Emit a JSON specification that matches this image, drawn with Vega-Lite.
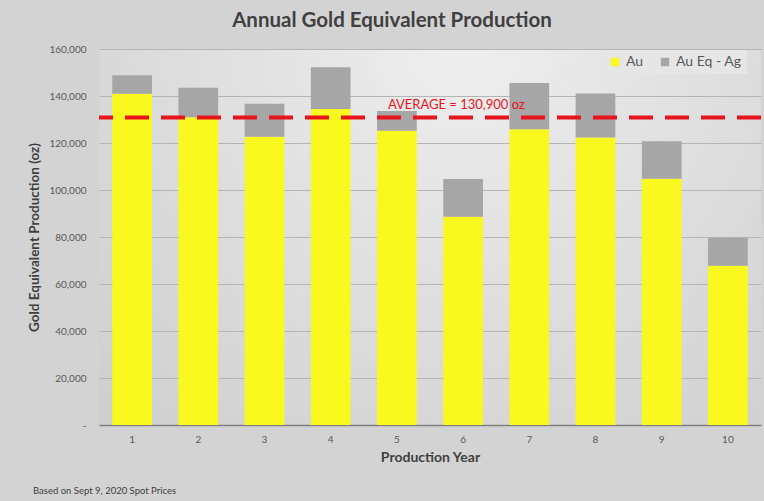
{
  "$schema": "https://vega.github.io/schema/vega-lite/v6.json",
  "width": 662,
  "height": 376,
  "autosize": {"type": "none"},
  "padding": {"left": 99, "top": 49, "right": 3, "bottom": 76},
  "background": "#d3d3d3",
  "view": {
    "stroke": null,
    "fill": {
      "gradient": "radial",
      "x1": 0.55, "y1": 0.2, "x2": 0.55, "y2": 0.2,
      "r1": 0, "r2": 0.85,
      "stops": [
        {"offset": 0, "color": "#efefef"},
        {"offset": 1, "color": "#cccccc"}
      ]
    }
  },
  "title": {
    "text": "Annual Gold Equivalent Production",
    "font": "Lato",
    "fontSize": 20.5,
    "fontWeight": "bold",
    "color": "#404040",
    "anchor": "middle",
    "dx": -38,
    "offset": 13
  },
  "config": {
    "view": {"stroke": null},
    "font": "Lato",
    "axis": {"labelFont": "Lato", "titleFont": "Lato"}
  },
  "datasets": {
    "bars": [
      {"year": 1, "series": "Au", "oz": 141000},
      {"year": 1, "series": "Au Eq - Ag", "oz": 7800},
      {"year": 2, "series": "Au", "oz": 131000},
      {"year": 2, "series": "Au Eq - Ag", "oz": 12500},
      {"year": 3, "series": "Au", "oz": 122700},
      {"year": 3, "series": "Au Eq - Ag", "oz": 14000},
      {"year": 4, "series": "Au", "oz": 134500},
      {"year": 4, "series": "Au Eq - Ag", "oz": 17700},
      {"year": 5, "series": "Au", "oz": 125200},
      {"year": 5, "series": "Au Eq - Ag", "oz": 8400},
      {"year": 6, "series": "Au", "oz": 88600},
      {"year": 6, "series": "Au Eq - Ag", "oz": 16100},
      {"year": 7, "series": "Au", "oz": 125800},
      {"year": 7, "series": "Au Eq - Ag", "oz": 19700},
      {"year": 8, "series": "Au", "oz": 122300},
      {"year": 8, "series": "Au Eq - Ag", "oz": 18800},
      {"year": 9, "series": "Au", "oz": 104800},
      {"year": 9, "series": "Au Eq - Ag", "oz": 15900},
      {"year": 10, "series": "Au", "oz": 67800},
      {"year": 10, "series": "Au Eq - Ag", "oz": 11900}
    ],
    "avg": [{"year": 5, "value": 130900, "label": "AVERAGE = 130,900 oz"}],
    "note": [{"text": "Based on Sept 9, 2020 Spot Prices"}]
  },
  "layer": [
    {
      "data": {"name": "bars"},
      "mark": {"type": "bar"},
      "encoding": {
        "x": {
          "field": "year",
          "type": "ordinal",
          "scale": {"paddingInner": 0.4, "paddingOuter": 0.2},
          "axis": {
            "title": "Production Year",
            "titleFontSize": 14,
            "titleFontWeight": "bold",
            "titleColor": "#404040",
            "titlePadding": 6,
            "labelAngle": 0,
            "labelFontSize": 10,
            "labelColor": "#595959",
            "labelPadding": 9,
            "ticks": false,
            "domainColor": "#808080",
            "domainWidth": 1.5,
            "grid": false
          }
        },
        "y": {
          "field": "oz",
          "type": "quantitative",
          "stack": "zero",
          "scale": {"domain": [0, 160000], "nice": false},
          "axis": {
            "title": "Gold Equivalent Production (oz)",
            "titleFontSize": 13.5,
            "titleFontWeight": "bold",
            "titleColor": "#404040",
            "titlePadding": 7,
            "values": [0, 20000, 40000, 60000, 80000, 100000, 120000, 140000, 160000],
            "labelExpr": "datum.value == 0 ? '-' : format(datum.value, ',')",
            "labelFontSize": 10,
            "labelColor": "#595959",
            "labelPadding": 13,
            "ticks": false,
            "domain": false,
            "gridColor": "#b5b5b5",
            "gridWidth": 1
          }
        },
        "color": {
          "field": "series",
          "type": "nominal",
          "scale": {"domain": ["Au", "Au Eq - Ag"], "range": ["#f9f91f", "#a6a6a6"]},
          "legend": {
            "title": null,
            "orient": "none",
            "legendX": 504,
            "legendY": 1,
            "direction": "horizontal",
            "fillColor": "#e6e6e6",
            "padding": 5,
            "symbolType": "square",
            "symbolSize": 70,
            "symbolStrokeWidth": 0,
            "labelFontSize": 14,
            "labelColor": "#595959",
            "labelFont": "Lato",
            "columnPadding": 14
          }
        },
        "order": {"field": "series", "sort": "ascending"}
      }
    },
    {
      "data": {"name": "avg"},
      "mark": {"type": "rule", "color": "#e8141b", "strokeWidth": 4, "strokeDash": [24, 12]},
      "encoding": {
        "y": {"field": "value", "type": "quantitative"}
      }
    },
    {
      "data": {"name": "avg"},
      "mark": {"type": "text", "align": "left", "baseline": "bottom", "dx": -9, "dy": -5, "fontSize": 13, "color": "#e8141b", "font": "Lato"},
      "encoding": {
        "x": {"field": "year", "type": "ordinal"},
        "y": {"field": "value", "type": "quantitative"},
        "text": {"field": "label"}
      }
    },
    {
      "data": {"name": "note"},
      "mark": {"type": "text", "align": "left", "baseline": "middle", "fontSize": 9.5, "color": "#404040", "font": "Lato", "x": -66, "y": 442},
      "encoding": {
        "text": {"field": "text"}
      }
    }
  ]
}
